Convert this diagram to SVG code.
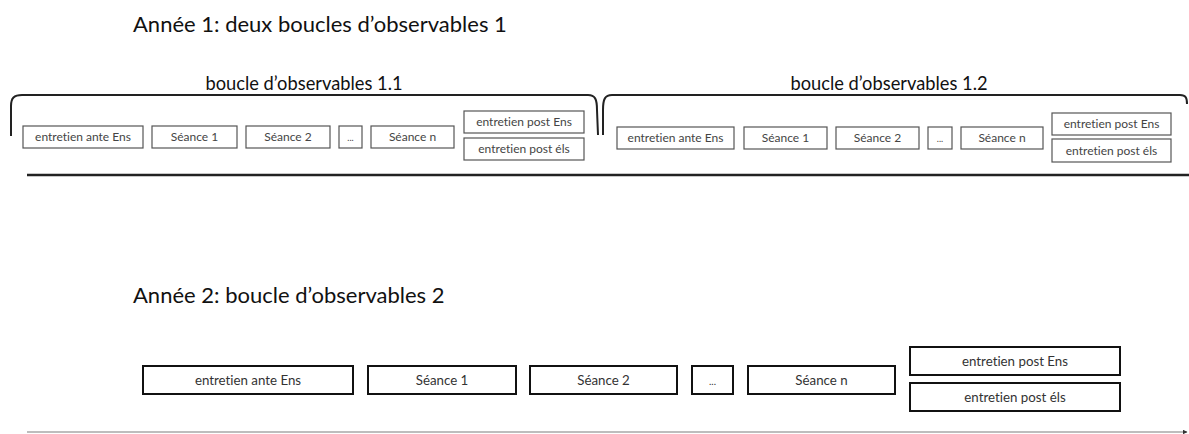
<svg xmlns="http://www.w3.org/2000/svg" width="1189" height="434" viewBox="0 0 1189 434">
<style>
text{font-variant-ligatures:none;font-feature-settings:"liga" 0,"clig" 0}
.t{font-family:Lato,"Open Sans","Liberation Sans",sans-serif;fill:#111}
.h{font-size:22px}
.s{font-size:18.3px}
.b1{fill:#fff;stroke:#555;stroke-width:1.2}
.b2{fill:#fff;stroke:#111;stroke-width:2}
.l1{font-family:Lato,"Open Sans","Liberation Sans",sans-serif;font-size:12px;fill:#444;text-anchor:middle}
.l2{font-family:Lato,"Open Sans","Liberation Sans",sans-serif;font-size:13.3px;fill:#333;text-anchor:middle}
.br{fill:none;stroke:#222;stroke-width:2}
</style>
<defs>
<marker id="ah" viewBox="0 0 10 10" refX="9" refY="5" markerWidth="5" markerHeight="5" orient="auto" markerUnits="userSpaceOnUse">
<path d="M0,0 L10,5 L0,10 z" fill="#333"/>
</marker>
</defs>
<rect width="1189" height="434" fill="#fff"/>
<text class="t h" x="133" y="32">Année 1: deux boucles d’observables 1</text>
<text class="t s" x="304" y="90" text-anchor="middle">boucle d’observables 1.1</text>
<text class="t s" x="889" y="90" text-anchor="middle">boucle d’observables 1.2</text>
<text class="t h" x="133" y="303">Année 2: boucle d’observables 2</text>
<g id="connectors">
<path class="br" d="M11,136 L11,106 C11,98 14,95 22,95 L588,95 C595,95 597,99 597,110 L598,135"/>
<path class="br" d="M603,135 L603,110 C603,99 605,95 612,95 L1180,95 C1186,95 1187,98 1187,104"/>
<line x1="27" y1="175" x2="1189" y2="175" stroke="#222" stroke-width="2.5"/>
<line x1="27" y1="432" x2="1187" y2="432" stroke="#bdbdbd" stroke-width="2" marker-end="url(#ah)"/>
</g>
<g id="y1a-ante"><rect class="b1" x="23" y="126" width="120" height="22"/><text class="l1" x="83" y="141">entretien ante Ens</text></g>
<g id="y1a-s1"><rect class="b1" x="152" y="126" width="85" height="22"/><text class="l1" x="194.5" y="141">Séance 1</text></g>
<g id="y1a-s2"><rect class="b1" x="246" y="126" width="84" height="22"/><text class="l1" x="288" y="141">Séance 2</text></g>
<g id="y1a-dots"><rect class="b1" x="339" y="126" width="23" height="22"/><text class="l1" x="350.5" y="141" style="font-size:9px">...</text></g>
<g id="y1a-sn"><rect class="b1" x="371" y="126" width="83" height="22"/><text class="l1" x="412.5" y="141">Séance n</text></g>
<g id="y1a-postens"><rect class="b1" x="464" y="111" width="120" height="22"/><text class="l1" x="524" y="126">entretien post Ens</text></g>
<g id="y1a-postels"><rect class="b1" x="464" y="138" width="120" height="22"/><text class="l1" x="524" y="153">entretien post éls</text></g>
<g id="y1b-ante"><rect class="b1" x="617" y="127" width="117" height="22"/><text class="l1" x="675.5" y="142">entretien ante Ens</text></g>
<g id="y1b-s1"><rect class="b1" x="744" y="127" width="83" height="22"/><text class="l1" x="785.5" y="142">Séance 1</text></g>
<g id="y1b-s2"><rect class="b1" x="836" y="127" width="83" height="22"/><text class="l1" x="877.5" y="142">Séance 2</text></g>
<g id="y1b-dots"><rect class="b1" x="928" y="127" width="24" height="22"/><text class="l1" x="940" y="142" style="font-size:9px">...</text></g>
<g id="y1b-sn"><rect class="b1" x="961" y="127" width="82" height="22"/><text class="l1" x="1002" y="142">Séance n</text></g>
<g id="y1b-postens"><rect class="b1" x="1052" y="113" width="119" height="22"/><text class="l1" x="1111.5" y="128">entretien post Ens</text></g>
<g id="y1b-postels"><rect class="b1" x="1052" y="139" width="119" height="23"/><text class="l1" x="1111.5" y="155">entretien post éls</text></g>
<g id="y2-ante"><rect class="b2" x="143" y="366" width="210" height="28"/><text class="l2" x="248" y="384.5">entretien ante Ens</text></g>
<g id="y2-s1"><rect class="b2" x="368" y="366" width="148" height="28"/><text class="l2" x="442" y="384.5">Séance 1</text></g>
<g id="y2-s2"><rect class="b2" x="530" y="366" width="147" height="28"/><text class="l2" x="603.5" y="384.5">Séance 2</text></g>
<g id="y2-dots"><rect class="b2" x="692" y="366" width="41" height="28"/><text class="l2" x="712.5" y="384.5" style="font-size:10px">...</text></g>
<g id="y2-sn"><rect class="b2" x="748" y="366" width="147" height="28"/><text class="l2" x="821.5" y="384.5">Séance n</text></g>
<g id="y2-postens"><rect class="b2" x="910" y="347" width="210" height="28"/><text class="l2" x="1015" y="365.5">entretien post Ens</text></g>
<g id="y2-postels"><rect class="b2" x="910" y="383" width="210" height="28"/><text class="l2" x="1015" y="401.5">entretien post éls</text></g>
</svg>
